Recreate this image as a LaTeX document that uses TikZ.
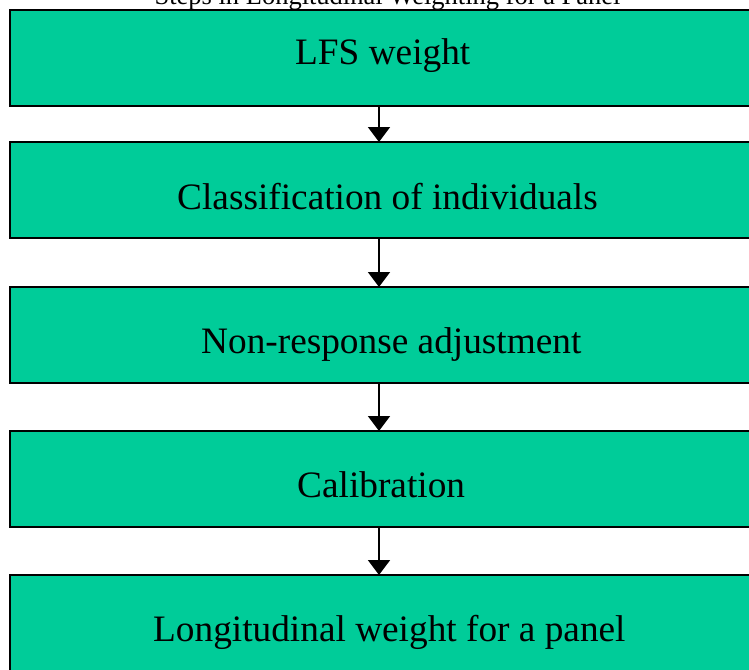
\documentclass[tikz,border=0pt]{standalone}
\usepackage{fontspec}
\setmainfont{Liberation Serif}
\usetikzlibrary{arrows.meta}
\definecolor{boxgreen}{RGB}{0,204,153}
\tikzset{
  stepbox/.style={draw=black, line width=2pt, fill=boxgreen, rectangle,
    minimum width=742pt, minimum height=96pt, inner sep=0pt, outer sep=0pt},
  steptext/.style={anchor=base west, inner sep=0pt, font=\fontsize{37.3}{40}\selectfont},
  flow/.style={line width=2pt, -{Triangle[width=22pt,length=15pt]}},
}
\begin{document}
\begin{tikzpicture}[x=1pt, y=-1pt]
\useasboundingbox (0,0) rectangle (749,669);
\node[anchor=base, inner sep=0pt, font=\fontsize{26.5}{28}\selectfont] (title) at (387.5,4.5) {Steps in Longitudinal Weighting for a Panel};
\node[stepbox] (b1) at (381,58) {};
\node[stepbox] (b2) at (381,190) {};
\node[stepbox] (b3) at (381,335) {};
\node[stepbox] (b4) at (381,479) {};
\node[stepbox] (b5) at (381,623) {};
\node[steptext] (t1) at (295,65) {LFS weight};
\node[steptext] (t2) at (177,209) {Classification of individuals};
\node[steptext] (t3) at (201,353) {Non-response adjustment};
\node[steptext] (t4) at (297,497) {Calibration};
\node[steptext] (t5) at (153,641) {Longitudinal weight for a panel};
\draw[flow] (b1.south -| 379,0) -- (b2.north -| 379,0);
\draw[flow] (b2.south -| 379,0) -- (b3.north -| 379,0);
\draw[flow] (b3.south -| 379,0) -- (b4.north -| 379,0);
\draw[flow] (b4.south -| 379,0) -- (b5.north -| 379,0);
\end{tikzpicture}
\end{document}
